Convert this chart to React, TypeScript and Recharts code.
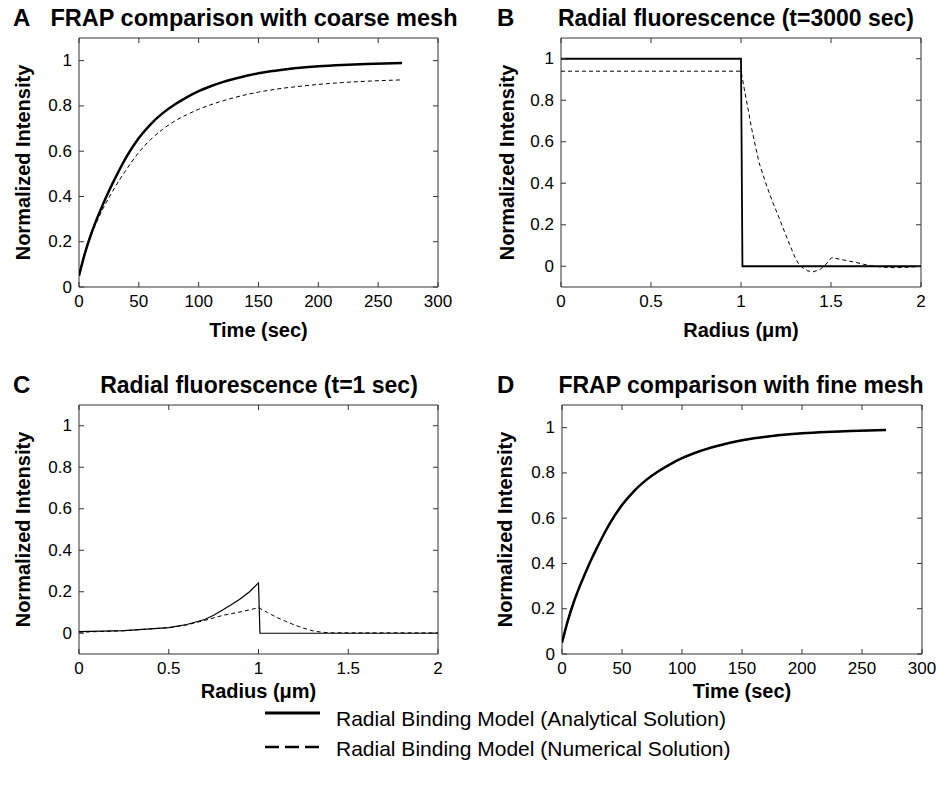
import React from 'react';
import { LineChart, Line, XAxis, YAxis, ReferenceArea } from 'recharts';

const FONT = '"Liberation Sans", Arial, Helvetica, sans-serif';

// ---------- Panel A / D : FRAP recovery (time in sec) ----------
const frapTime = [0, 5, 10, 15, 20, 25, 30, 35, 40, 50, 60, 70, 80, 90, 100, 110, 120, 130, 140, 150, 160, 170, 180, 200, 220, 240, 270];
const coarseAnalytical = [0.05, 0.15, 0.232, 0.302, 0.365, 0.424, 0.478, 0.53, 0.578, 0.658, 0.72, 0.768, 0.806, 0.838, 0.865, 0.887, 0.905, 0.92, 0.933, 0.944, 0.953, 0.96, 0.966, 0.975, 0.981, 0.985, 0.99];
const coarseNumerical = [0.05, 0.15, 0.226, 0.29, 0.345, 0.395, 0.44, 0.483, 0.522, 0.595, 0.652, 0.697, 0.733, 0.761, 0.785, 0.805, 0.822, 0.837, 0.85, 0.861, 0.87, 0.878, 0.884, 0.895, 0.903, 0.909, 0.915];
const fineAnalytical = [0.05, 0.15, 0.232, 0.302, 0.365, 0.424, 0.478, 0.53, 0.578, 0.658, 0.72, 0.768, 0.806, 0.838, 0.865, 0.887, 0.905, 0.92, 0.933, 0.944, 0.953, 0.96, 0.966, 0.975, 0.981, 0.985, 0.99];
const fineNumerical = [0.05, 0.152, 0.234, 0.303, 0.366, 0.425, 0.479, 0.53, 0.577, 0.656, 0.718, 0.766, 0.804, 0.837, 0.864, 0.886, 0.904, 0.919, 0.932, 0.943, 0.952, 0.959, 0.965, 0.974, 0.98, 0.984, 0.989];

// ---------- Panel B : radial profile, t = 3000 sec ----------
const radiusBAnalytical = [0, 1, 1.008, 2];
const intensityBAnalytical = [1, 1, 0, 0];
const radiusBNumerical = [0, 1, 1.03, 1.06, 1.1, 1.133, 1.15, 1.18, 1.21, 1.24, 1.27, 1.3, 1.32, 1.34, 1.37, 1.4, 1.44, 1.467, 1.504, 1.56, 1.624, 1.68, 1.717, 1.78, 1.85, 1.92, 2];
const intensityBNumerical = [0.94, 0.94, 0.8, 0.66, 0.5, 0.413, 0.37, 0.3, 0.237, 0.17, 0.105, 0.043, 0.012, -0.006, -0.022, -0.027, -0.015, 0.005, 0.042, 0.032, 0.021, 0.01, 0.003, -0.004, -0.007, -0.005, 0];

// ---------- Panel C : radial profile, t = 1 sec ----------
const radiusCAnalytical = [0, 0.25, 0.5, 0.6, 0.7, 0.75, 0.8, 0.85, 0.9, 0.95, 1, 1.008, 1.5, 2];
const intensityCAnalytical = [0.008, 0.013, 0.027, 0.042, 0.066, 0.087, 0.112, 0.138, 0.166, 0.2, 0.243, 0, 0, 0];
const radiusCNumerical = [0, 0.25, 0.5, 0.6, 0.7, 0.8, 0.9, 1, 1.05, 1.1, 1.15, 1.2, 1.25, 1.3, 1.35, 1.4, 2];
const intensityCNumerical = [0.005, 0.012, 0.027, 0.04, 0.062, 0.086, 0.103, 0.123, 0.1, 0.077, 0.058, 0.04, 0.025, 0.012, 0.005, 0.002, 0.002];

// ---------- ticks / labels ----------
const timeTicks = [0, 50, 100, 150, 200, 250, 300];
const radiusTicks = [0, 0.5, 1, 1.5, 2];
const intensityTicks = [0, 0.2, 0.4, 0.6, 0.8, 1];
const legendLabels = ['Radial Binding Model (Analytical Solution)', 'Radial Binding Model (Numerical Solution)'];

const toPoints = (xs: number[], ys: number[]) => xs.map((x, i) => ({ x, v: ys[i] }));

type Series = { xs: number[]; ys: number[]; dashed: boolean; width: number; smooth?: boolean };

type PanelProps = {
  left: number;
  top: number;
  width: number;
  height: number;
  plotLeft: number;
  plotTop: number;
  plotRight: number;
  plotBottom: number;
  xDomain: [number, number];
  yDomain: [number, number];
  xTicks: number[];
  yTicks: number[];
  xLabel: string;
  yLabel: string;
  xLabelOffset: number;
  yLabelOffset: number;
  series: Series[];
};

const FRAME = '#333';

function Panel(p: PanelProps) {
  const xAxisHeight = p.height - p.plotBottom;
  const yAxisWidth = p.plotLeft;

  const renderXTick = (props: any) => {
    const { x, payload } = props;
    return (
      <g>
        <line x1={x} x2={x} y1={p.plotBottom} y2={p.plotBottom - 5} stroke={FRAME} strokeWidth={1} />
        <line x1={x} x2={x} y1={p.plotTop} y2={p.plotTop + 5} stroke={FRAME} strokeWidth={1} />
        <text x={x} y={p.plotBottom + 14} textAnchor="middle" dominantBaseline="central" fontSize={17} fontFamily={FONT} fill="#000">
          {String(payload.value)}
        </text>
      </g>
    );
  };

  const renderYTick = (props: any) => {
    const { y, payload } = props;
    return (
      <g>
        <line x1={p.plotLeft} x2={p.plotLeft + 5} y1={y} y2={y} stroke={FRAME} strokeWidth={1} />
        <line x1={p.plotRight} x2={p.plotRight - 5} y1={y} y2={y} stroke={FRAME} strokeWidth={1} />
        <text x={p.plotLeft - 7} y={y} textAnchor="end" dominantBaseline="central" fontSize={17} fontFamily={FONT} fill="#000">
          {String(payload.value)}
        </text>
      </g>
    );
  };

  return (
    <div style={{ position: 'absolute', left: p.left, top: p.top, width: p.width, height: p.height }}>
      <LineChart
        width={p.width}
        height={p.height}
        margin={{ top: p.plotTop, right: p.width - p.plotRight, bottom: 0, left: 0 }}
      >
        <XAxis
          dataKey="x"
          type="number"
          domain={p.xDomain}
          ticks={p.xTicks}
          interval={0}
          allowDataOverflow
          height={xAxisHeight}
          axisLine={false}
          tickLine={false}
          tickSize={0}
          tick={renderXTick}
          label={{
            value: p.xLabel,
            position: 'insideTop',
            offset: p.xLabelOffset,
            style: { fontFamily: FONT, fontSize: 20, fontWeight: 'bold', fill: '#000' },
          }}
        />
        <YAxis
          type="number"
          domain={p.yDomain}
          ticks={p.yTicks}
          interval={0}
          allowDataOverflow
          width={yAxisWidth}
          axisLine={false}
          tickLine={false}
          tickSize={0}
          tick={renderYTick}
          label={{
            value: p.yLabel,
            angle: -90,
            position: 'insideLeft',
            offset: p.yLabelOffset,
            style: { fontFamily: FONT, fontSize: 20, fontWeight: 'bold', fill: '#000', textAnchor: 'middle' },
          }}
        />
        {p.series.map((s, i) => (
          <Line
            key={i}
            data={toPoints(s.xs, s.ys)}
            dataKey="v"
            type={s.smooth ? 'monotone' : 'linear'}
            stroke="#000"
            strokeWidth={s.width}
            strokeDasharray={s.dashed ? '4 3' : undefined}
            dot={false}
            activeDot={false}
            isAnimationActive={false}
          />
        ))}
        <ReferenceArea
          x1={p.xDomain[0]}
          x2={p.xDomain[1]}
          y1={p.yDomain[0]}
          y2={p.yDomain[1]}
          fill="none"
          fillOpacity={0}
          stroke={FRAME}
          strokeWidth={1}
          ifOverflow="visible"
        />
      </LineChart>
    </div>
  );
}

const titleStyle = { fontFamily: FONT, fontWeight: 'bold' as const, fill: '#000' };

export default function App() {
  return (
    <div style={{ position: 'absolute', left: 0, top: 0, width: 936, height: 785, background: '#fff', overflow: 'hidden' }}>
      {/* A */}
      <Panel
        left={0}
        top={0}
        width={470}
        height={360}
        plotLeft={79}
        plotTop={38}
        plotRight={438}
        plotBottom={287}
        xDomain={[0, 300]}
        yDomain={[0, 1.1]}
        xTicks={timeTicks}
        yTicks={intensityTicks}
        xLabel="Time (sec)"
        yLabel="Normalized Intensity"
        xLabelOffset={36}
        yLabelOffset={23}
        series={[
          { xs: frapTime, ys: coarseNumerical, dashed: true, width: 1, smooth: true },
          { xs: frapTime, ys: coarseAnalytical, dashed: false, width: 2.5, smooth: true },
        ]}
      />
      {/* B */}
      <Panel
        left={470}
        top={0}
        width={466}
        height={360}
        plotLeft={91}
        plotTop={38}
        plotRight={451}
        plotBottom={287}
        xDomain={[0, 2]}
        yDomain={[-0.1, 1.1]}
        xTicks={radiusTicks}
        yTicks={intensityTicks}
        xLabel="Radius (μm)"
        yLabel="Normalized Intensity"
        xLabelOffset={36}
        yLabelOffset={37}
        series={[
          { xs: radiusBNumerical, ys: intensityBNumerical, dashed: true, width: 1 },
          { xs: radiusBAnalytical, ys: intensityBAnalytical, dashed: false, width: 1.8 },
        ]}
      />
      {/* C */}
      <Panel
        left={0}
        top={360}
        width={470}
        height={360}
        plotLeft={79}
        plotTop={45}
        plotRight={438}
        plotBottom={294}
        xDomain={[0, 2]}
        yDomain={[-0.1, 1.1]}
        xTicks={radiusTicks}
        yTicks={intensityTicks}
        xLabel="Radius (μm)"
        yLabel="Normalized Intensity"
        xLabelOffset={30}
        yLabelOffset={23}
        series={[
          { xs: radiusCNumerical, ys: intensityCNumerical, dashed: true, width: 1 },
          { xs: radiusCAnalytical, ys: intensityCAnalytical, dashed: false, width: 1.2 },
        ]}
      />
      {/* D */}
      <Panel
        left={470}
        top={360}
        width={466}
        height={360}
        plotLeft={92}
        plotTop={45}
        plotRight={452}
        plotBottom={294}
        xDomain={[0, 300]}
        yDomain={[0, 1.1]}
        xTicks={timeTicks}
        yTicks={intensityTicks}
        xLabel="Time (sec)"
        yLabel="Normalized Intensity"
        xLabelOffset={30}
        yLabelOffset={35}
        series={[
          { xs: frapTime, ys: fineNumerical, dashed: true, width: 1.2, smooth: true },
          { xs: frapTime, ys: fineAnalytical, dashed: false, width: 2.5, smooth: true },
        ]}
      />

      <svg width={936} height={785} style={{ position: 'absolute', left: 0, top: 0, pointerEvents: 'none' }}>
        {/* panel letters and titles */}
        <text x={13} y={26} fontSize={24} {...titleStyle}>A</text>
        <text x={254} y={26} fontSize={23.5} textAnchor="middle" {...titleStyle}>FRAP comparison with coarse mesh</text>
        <text x={497} y={26} fontSize={24} {...titleStyle}>B</text>
        <text x={736} y={26} fontSize={23} textAnchor="middle" {...titleStyle}>Radial fluorescence (t=3000 sec)</text>
        <text x={13} y={393} fontSize={24} {...titleStyle}>C</text>
        <text x={259} y={393} fontSize={23} textAnchor="middle" {...titleStyle}>Radial fluorescence (t=1 sec)</text>
        <text x={497} y={393} fontSize={24} {...titleStyle}>D</text>
        <text x={741} y={393} fontSize={23} textAnchor="middle" {...titleStyle}>FRAP comparison with fine mesh</text>

        {/* shared legend */}
        <line x1={265} x2={320} y1={713} y2={713} stroke="#000" strokeWidth={3} />
        <text x={336} y={726} fontSize={21} fontFamily={FONT} fill="#000">{legendLabels[0]}</text>
        <line x1={265} x2={320} y1={747} y2={747} stroke="#000" strokeWidth={2.5} strokeDasharray="14 6" />
        <text x={336} y={756} fontSize={21} fontFamily={FONT} fill="#000">{legendLabels[1]}</text>
      </svg>
    </div>
  );
}
